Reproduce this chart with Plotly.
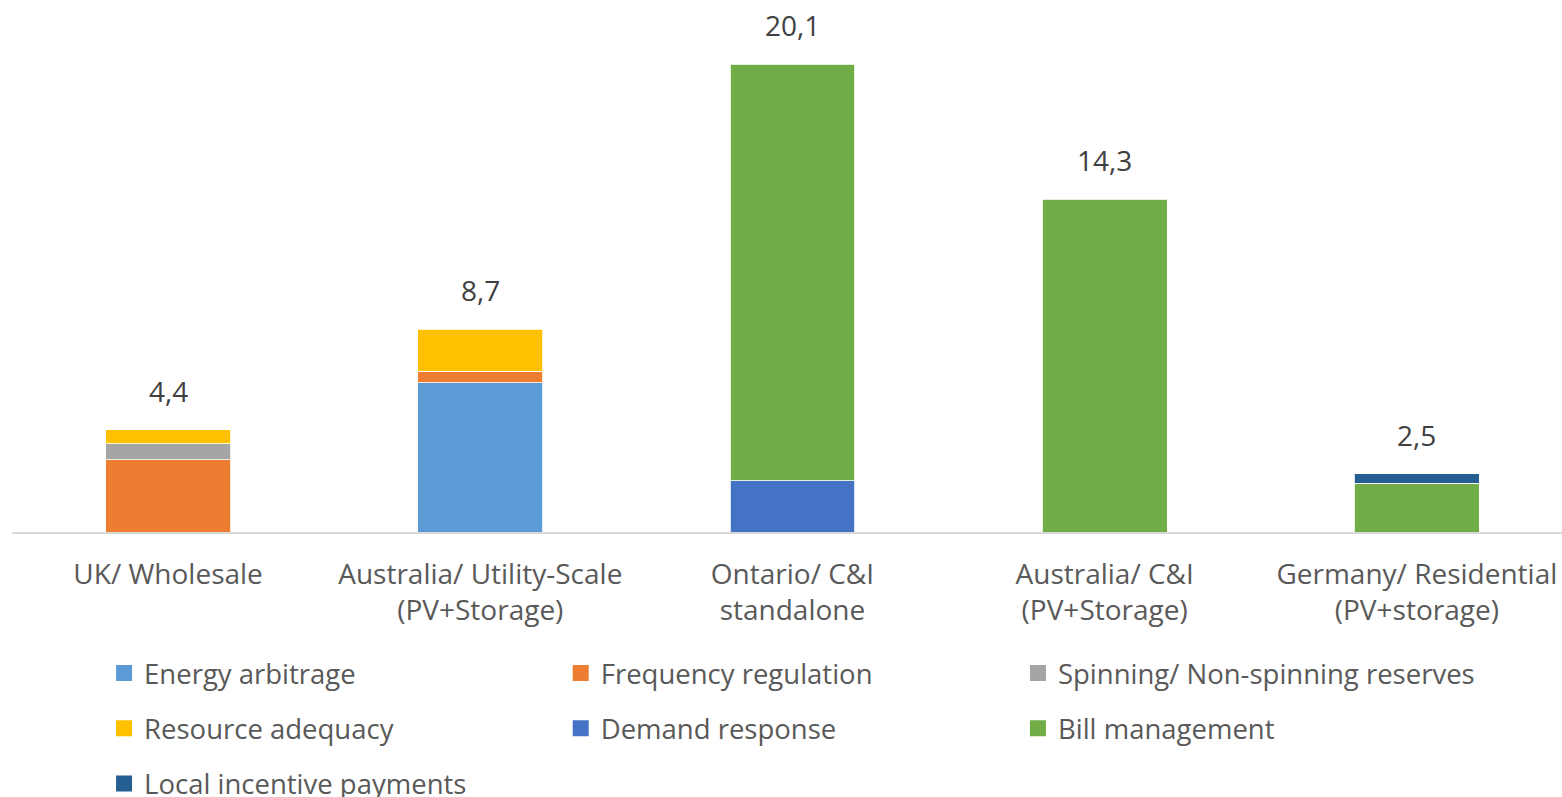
import plotly.graph_objects as go

categories = ["UK/ Wholesale", "Australia/ Utility-Scale<br>(PV+Storage)", "Ontario/ C&I<br>standalone",
              "Australia/ C&I<br>(PV+Storage)", "Germany/ Residential<br>(PV+storage)"]

energy_arbitrage = [0, 6.4, 0, 0, 0]
frequency_regulation = [3.1, 0.5, 0, 0, 0]
spinning_reserves = [0.7, 0, 0, 0, 0]
resource_adequacy = [0.6, 1.8, 0, 0, 0]
demand_response = [0, 0, 2.2, 0, 0]
bill_management = [0, 0, 17.9, 14.3, 2.1]
local_incentive = [0, 0, 0, 0, 0.4]

series = [
    ("Energy arbitrage", energy_arbitrage, "#5B9BD5", "legend"),
    ("Frequency regulation", frequency_regulation, "#ED7D31", "legend2"),
    ("Spinning/ Non-spinning reserves", spinning_reserves, "#A5A5A5", "legend3"),
    ("Resource adequacy", resource_adequacy, "#FFC000", "legend"),
    ("Demand response", demand_response, "#4472C4", "legend2"),
    ("Bill management", bill_management, "#70AD47", "legend3"),
    ("Local incentive payments", local_incentive, "#255E91", "legend"),
]

FONT = "'Open Sans', sans-serif"
H = 840  # taller than the window; bottom is clipped like the reference

fig = go.Figure()
for name, vals, color, leg in series:
    fig.add_trace(go.Bar(
        x=categories, y=[v if v else None for v in vals], name=name,
        marker=dict(color=color, line=dict(color="white", width=0.8)),
        showlegend=False, legendgroup=name,
    ))
    # legend swatch (square marker, no data)
    fig.add_trace(go.Scatter(
        x=[None], y=[None], mode="markers", name=name,
        marker=dict(symbol="square", size=18, color=color),
        legend=leg, legendgroup=name, hoverinfo="skip",
    ))

totals = [round(sum(s[1][i] for s in series), 1) for i in range(len(categories))]
for cat, tot in zip(categories, totals):
    fig.add_annotation(x=cat, y=tot, text=f"{tot:.1f}".replace(".", ","),
                       showarrow=False, yanchor="middle", yshift=39,
                       font=dict(family=FONT, size=28, color="#404040"))

leg_common = dict(orientation="v", yanchor="top", y=-0.219, traceorder="grouped",
                  tracegroupgap=16.5, font=dict(family=FONT, size=27.5, color="#595959"),
                  bgcolor="rgba(0,0,0,0)", itemclick=False, itemsizing="trace")

fig.update_layout(
    width=1562, height=H,
    margin=dict(l=12, r=0, t=0, b=H - 532),
    barmode="stack", bargap=0.6,
    plot_bgcolor="white", paper_bgcolor="white",
    font=dict(family=FONT, color="#595959"),
    xaxis=dict(range=[-0.5, 4.465], showline=True, linecolor="#D9D9D9", linewidth=2,
               showgrid=False, ticks="", tickfont=dict(family=FONT, size=28, color="#595959"),
               ticklabelstandoff=16),
    yaxis=dict(range=[0, 22.85], visible=False, showgrid=False),
    legend=dict(x=0.0594, **leg_common),
    legend2=dict(x=0.354, **leg_common),
    legend3=dict(x=0.649, **leg_common),
)

fig.write_html("out.html", config={"displayModeBar": False}, post_script=(
    "document.documentElement.style.margin='0';document.body.style.margin='0';"
    "document.documentElement.style.overflow='hidden';document.body.style.overflow='hidden';"))
